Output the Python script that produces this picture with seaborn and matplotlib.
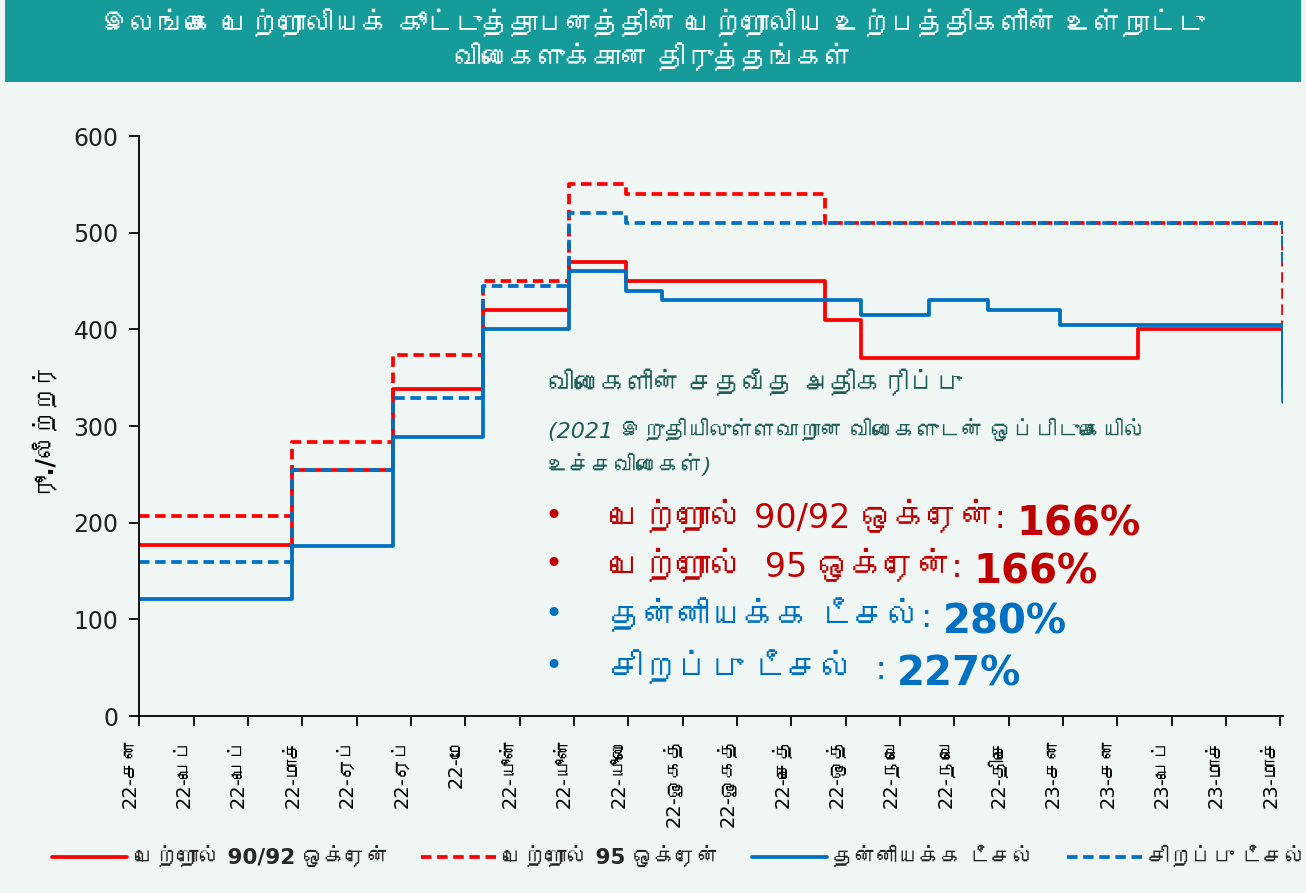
import datetime as dt
import matplotlib
matplotlib.use("Agg")
import matplotlib.pyplot as plt
from matplotlib import font_manager
from matplotlib.ft2font import FT2Font
from matplotlib.patches import Rectangle
import pandas as pd
import seaborn as sns

# datos: fechas de revision y precios (Rs./litro)
fechas = ["2022-01-11", "2022-03-11", "2022-04-19", "2022-05-24", "2022-06-26",
          "2022-07-18", "2022-08-01", "2022-10-03", "2022-10-17", "2022-11-12",
          "2022-12-05", "2023-01-02", "2023-02-01", "2023-03-29"]
petrol_92 = [177, 254, 338, 420, 470, 450, 450, 410, 370, 370, 370, 370, 400, 340]
petrol_95 = [207, 283, 373, 450, 550, 540, 540, 510, 510, 510, 510, 510, 510, 375]
auto_diesel = [121, 176, 289, 400, 460, 440, 430, 430, 415, 430, 420, 405, 405, 325]
super_diesel = [159, 254, 329, 445, 520, 510, 510, 510, 510, 510, 510, 510, 510, 465]

etiquetas_x = ["22-சன", "22-பெப்", "22-பெப்", "22-மாச்", "22-ஏப்", "22-ஏப்", "22-மே",
               "22-யூன்", "22-யூன்", "22-யூலை", "22-ஓகத்", "22-ஓகத்", "22-செத்", "22-ஒத்",
               "22-நவெ", "22-நவெ", "22-திசெ", "23-சன", "23-சன", "23-பெப்", "23-மாச்", "23-மாச்"]

series = ["பெற்றோல் 90/92 ஒக்ரேன்", "பெற்றோல் 95 ஒக்ரேன்", "தன்னியக்க டீசல்", "சிறப்பு டீசல்"]
porcentajes = ["166%", "166%", "280%", "227%"]

titulo = ("இலங்கை பெற்றோலியக் கூட்டுத்தாபனத்தின் பெற்றோலிய உற்பத்திகளின் உள்நாட்டு\n"
          "விலைகளுக்கான திருத்தங்கள்")


# buscar una fuente con glifos tamil
def fuente_tamil():
    for f in font_manager.fontManager.ttflist:
        try:
            if FT2Font(f.fname).get_char_index(0x0B95):
                return f.name
        except Exception:
            pass
    return None


sns.set_theme(style="ticks")
tamil = fuente_tamil()
familias = ["DejaVu Sans"] + ([tamil] if tamil else [])
plt.rcParams["font.family"] = familias

fondo = "#F0F6F4"
rojo = "#FF0000"
azul = "#0070C0"

df = pd.DataFrame({"fecha": pd.to_datetime(fechas),
                   series[0]: petrol_92, series[1]: petrol_95,
                   series[2]: auto_diesel, series[3]: super_diesel})

fig = plt.figure(figsize=(13.06, 8.93), dpi=100, facecolor=fondo)
ax = fig.add_axes([0.1067, 0.1982, 0.8757, 0.6495])
ax.set_facecolor(fondo)

estilos = [(rojo, "-"), (rojo, (0, (2.8, 1.5))), (azul, "-"), (azul, (0, (2.8, 1.5)))]
for nombre, (color, ls) in zip(series, estilos):
    sns.lineplot(data=df, x="fecha", y=nombre, drawstyle="steps-post", color=color,
                 linestyle=ls, linewidth=2.7, label=nombre, ax=ax, legend=False)

# ejes
inicio = df["fecha"].iloc[0]
ax.set_xlim(inicio, df["fecha"].iloc[-1])
ax.set_ylim(0, 600)
ax.set_yticks(range(0, 601, 100))
ticks = [inicio + pd.Timedelta(days=21 * i) for i in range(len(etiquetas_x))]
ax.set_xticks(ticks)
ax.set_xticklabels(etiquetas_x, rotation=90, fontsize=14, va="top", ha="right",
                   color="black")
ax.tick_params(axis="y", labelsize=17, length=7, width=1.3, color="black", pad=8,
               labelcolor="#222222")
ax.tick_params(axis="x", length=7, width=1.3, color="black", pad=8)
for s in ["top", "right"]:
    ax.spines[s].set_visible(False)
for s in ["left", "bottom"]:
    ax.spines[s].set_color("black")
    ax.spines[s].set_linewidth(1.3)
ax.set_xlabel("")
ax.set_ylabel("")

# titulo
fig.patches.append(Rectangle((0.004, 0.908), 0.992, 0.092, transform=fig.transFigure,
                             facecolor="#169B9B", edgecolor="none", zorder=0))
fig.text(0.5, 0.953, titulo, ha="center", va="center", color="white",
         fontsize=20, fontweight="bold", linespacing=1.25)
fig.text(40 / 1306, 1 - 425 / 893, "ரூ./லீற்றர்", rotation=90, ha="center", va="center",
         fontsize=17, fontweight="bold", color="black")

# recuadro de porcentajes
verde = "#1E5E57"
fig.text(548 / 1306, 1 - 385 / 893, "விலைகளின் சதவீத அதிகரிப்பு", fontsize=19,
         fontweight="bold", color=verde, va="center")
fig.text(548 / 1306, 1 - 430 / 893, "(2021 இறுதியிலுள்ளவாறான விலைகளுடன் ஒப்பிடுகையில்",
         fontsize=16, style="italic", color=verde, va="center")
fig.text(548 / 1306, 1 - 465 / 893, "உச்சவிலைகள்)", fontsize=16, style="italic",
         color=verde, va="center")

colores_txt = ["#C00000", "#C00000", azul, azul]
textos = [series[0] + ": ", "பெற்றோல்  95 ஒக்ரேன்: ", "தன்னியக்க டீசல்: ", "சிறப்பு டீசல்  : "]
ys = [528, 577, 627, 679]
for txt, pct, col, y in zip(textos, porcentajes, colores_txt, ys):
    fig.text(553 / 1306, 1 - (y - 12) / 893, "•", fontsize=22, color=col, ha="center",
             va="center")
    t = fig.text(610 / 1306, 1 - y / 893, txt, fontsize=24, color=col, va="baseline")
    ax.annotate(pct, xy=(1, 0), xycoords=t, fontsize=29, fontweight="bold", color=col,
                va="baseline", ha="left", annotation_clip=False)

# leyenda
h, l = ax.get_legend_handles_labels()
fig.legend(h, l, loc="center", bbox_to_anchor=(0.52, 1 - 857 / 893), ncol=4, frameon=False,
           handlelength=3.5, handletextpad=0.3, columnspacing=1.5,
           prop={"weight": "bold", "size": 15.5})

plt.savefig("out.png", dpi=100, facecolor=fondo)
